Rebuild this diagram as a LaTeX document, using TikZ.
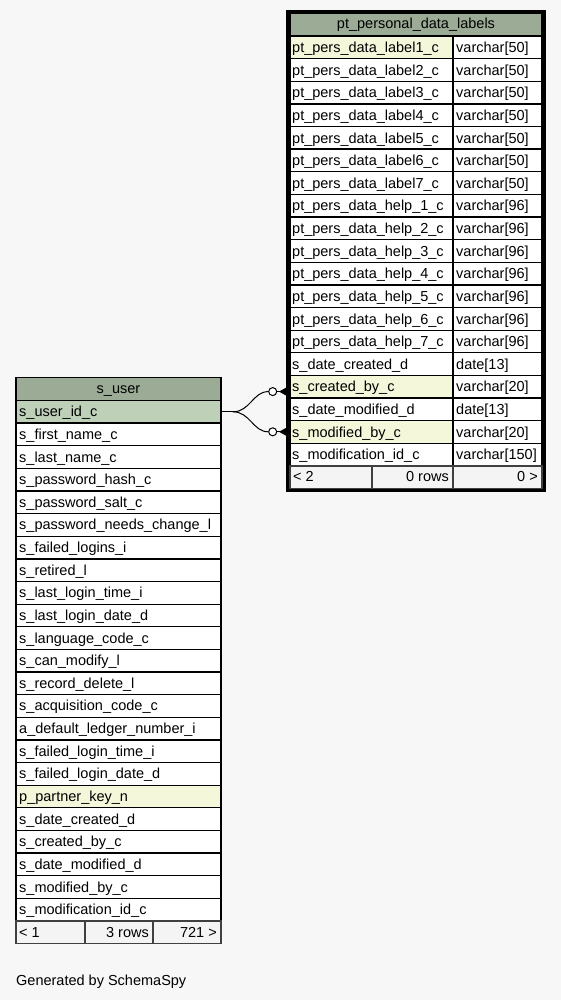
\documentclass[tikz,border=0pt]{standalone}
\usepackage{fontspec}
\setmainfont{Liberation Sans}
\definecolor{bg}{HTML}{F7F7F7}
\definecolor{hdr}{HTML}{9BAB96}
\definecolor{pk}{HTML}{BED1B8}
\definecolor{fk}{HTML}{F4F7DA}
\definecolor{ftr}{HTML}{F4F4F4}
\definecolor{ftrline}{HTML}{404040}
\begin{document}
\begin{tikzpicture}[x=1pt,y=-1pt,
  font=\fontsize{14.5}{16}\selectfont,
  cellbox/.style={draw=black,line width=1.3pt},
  footbox/.style={draw=ftrline,line width=1.3pt,fill=ftr},
  lefttxt/.style={anchor=base west,inner sep=0pt},
  righttxt/.style={anchor=base east,inner sep=0pt},
  midtxt/.style={anchor=base,inner sep=0pt},
  link/.style={draw=black,line width=1pt},
  ring/.style={circle,draw=black,fill=white,line width=1pt,minimum size=8pt,inner sep=0pt},
  crow/.style={fill=black}]
\useasboundingbox[fill=bg] (0,0) rectangle (561,1000);
\def\rh{22.63}
% ---------- table pt_personal_data_labels ----------
\path[cellbox,fill=hdr] (290,13) rectangle (542,36);
\node[midtxt] (tph) at (416,28.5) {pt\_personal\_data\_labels};
\foreach \n/\t/\f [count=\i from 0] in {
  pt\_pers\_data\_label1\_c/varchar[50]/fk,
  pt\_pers\_data\_label2\_c/varchar[50]/white,
  pt\_pers\_data\_label3\_c/varchar[50]/white,
  pt\_pers\_data\_label4\_c/varchar[50]/white,
  pt\_pers\_data\_label5\_c/varchar[50]/white,
  pt\_pers\_data\_label6\_c/varchar[50]/white,
  pt\_pers\_data\_label7\_c/varchar[50]/white,
  pt\_pers\_data\_help\_1\_c/varchar[96]/white,
  pt\_pers\_data\_help\_2\_c/varchar[96]/white,
  pt\_pers\_data\_help\_3\_c/varchar[96]/white,
  pt\_pers\_data\_help\_4\_c/varchar[96]/white,
  pt\_pers\_data\_help\_5\_c/varchar[96]/white,
  pt\_pers\_data\_help\_6\_c/varchar[96]/white,
  pt\_pers\_data\_help\_7\_c/varchar[96]/white,
  s\_date\_created\_d/date[13]/white,
  s\_created\_by\_c/varchar[20]/fk,
  s\_date\_modified\_d/date[13]/white,
  s\_modified\_by\_c/varchar[20]/fk,
  s\_modification\_id\_c/varchar[150]/white} {
  \pgfmathsetmacro\yt{36+\rh*\i}
  \pgfmathsetmacro\yb{\yt+\rh}
  \path[cellbox,fill=\f] (290,\yt) rectangle (453,\yb);
  \path[cellbox,fill=white] (453,\yt) rectangle (542,\yb);
  \node[lefttxt] (tn\i) at (292,\yt+16.5) {\n};
  \node[lefttxt] (tt\i) at (456,\yt+16.5) {\t};
}
\pgfmathsetmacro\yt{36+\rh*19}
\pgfmathsetmacro\yb{\yt+\rh}
\path[footbox] (290,\yt) rectangle (372,\yb);
\path[footbox] (372,\yt) rectangle (453,\yb);
\path[footbox] (453,\yt) rectangle (542,\yb);
\node[lefttxt] (tf1) at (293,\yt+16) {< 2};
\node[righttxt] (tf2) at (449,\yt+16) {0 rows};
\node[righttxt] (tf3) at (538,\yt+16) {0 >};
\draw[black,line width=3.2pt] (287.6,11.6) rectangle (544.4,490.6);
% ---------- table s_user ----------
\path[cellbox,fill=hdr] (16,377.5) rectangle (221,400.5);
\node[midtxt] (suh) at (118.5,393) {s\_user};
\foreach \n/\f [count=\i from 0] in {
  s\_user\_id\_c/pk,
  s\_first\_name\_c/white,
  s\_last\_name\_c/white,
  s\_password\_hash\_c/white,
  s\_password\_salt\_c/white,
  s\_password\_needs\_change\_l/white,
  s\_failed\_logins\_i/white,
  s\_retired\_l/white,
  s\_last\_login\_time\_i/white,
  s\_last\_login\_date\_d/white,
  s\_language\_code\_c/white,
  s\_can\_modify\_l/white,
  s\_record\_delete\_l/white,
  s\_acquisition\_code\_c/white,
  a\_default\_ledger\_number\_i/white,
  s\_failed\_login\_time\_i/white,
  s\_failed\_login\_date\_d/white,
  p\_partner\_key\_n/fk,
  s\_date\_created\_d/white,
  s\_created\_by\_c/white,
  s\_date\_modified\_d/white,
  s\_modified\_by\_c/white,
  s\_modification\_id\_c/white} {
  \pgfmathsetmacro\yt{400.5+\rh*\i}
  \pgfmathsetmacro\yb{\yt+\rh}
  \path[cellbox,fill=\f] (16,\yt) rectangle (221,\yb);
  \node[lefttxt] (un\i) at (19,\yt+16.3) {\n};
}
\pgfmathsetmacro\yt{400.5+\rh*23}
\pgfmathsetmacro\yb{\yt+\rh}
\path[footbox] (16,\yt) rectangle (85,\yb);
\path[footbox] (85,\yt) rectangle (153,\yb);
\path[footbox] (153,\yt) rectangle (221,\yb);
\node[lefttxt] (uf1) at (19,\yt+16) {< 1};
\node[righttxt] (uf2) at (149,\yt+16) {3 rows};
\node[righttxt] (uf3) at (217,\yt+16) {721 >};
% ---------- connectors ----------
\coordinate (uid) at (221,411.8);
\coordinate (split) at (233,411.8);
\node[ring] (r1) at (272.7,391.6) {};
\node[ring] (r2) at (272.7,431.8) {};
\coordinate (e1) at (288,391.6);
\coordinate (e2) at (288,431.8);
\draw[link] (uid) -- (split);
\draw[link] (split) .. controls (250,411.8) and (253,391.6) .. (r1.west);
\draw[link] (split) .. controls (250,411.8) and (253,431.8) .. (r2.west);
\draw[link] (r1.east) -- (e1);
\draw[link] (r2.east) -- (e2);
\fill[crow] (279,391.6) -- (288,386.6) -- (288,396.6) -- cycle;
\fill[crow] (279,431.8) -- (288,426.8) -- (288,436.8) -- cycle;
% ---------- footer ----------
\node[lefttxt] (gen) at (16,985) {Generated by SchemaSpy};
\end{tikzpicture}
\end{document}
